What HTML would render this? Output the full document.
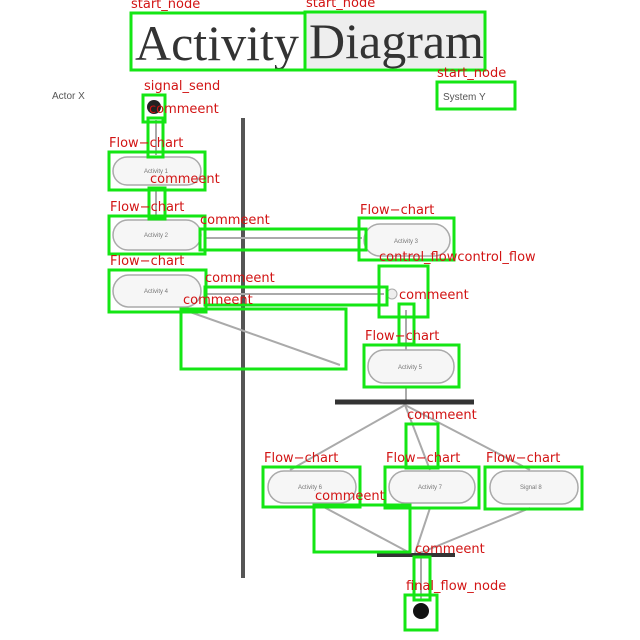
<!DOCTYPE html>
<html><head><meta charset="utf-8"><style>
html,body{margin:0;padding:0;background:#fff;}
svg{display:block;}
.g{fill:none;stroke:#14e614;stroke-width:3;}
.l{fill:#d21414;font-family:"DejaVu Sans","Liberation Sans",sans-serif;font-size:13px;}
.p{fill:#f6f6f6;stroke:#aaa;stroke-width:1.5;}
.t{fill:#777;font-family:"Liberation Sans",sans-serif;font-size:6px;}
.ln{stroke:#aaa;stroke-width:2;fill:none;}
</style></head><body>
<svg width="640" height="640" xmlns="http://www.w3.org/2000/svg">
<rect width="640" height="640" fill="#fff"/>
<text x="135" y="60" font-family="Liberation Serif,serif" font-size="50" fill="#333">Activity</text>
<rect x="306" y="13" width="178" height="55" fill="#eee"/>
<text x="309" y="58" font-family="Liberation Serif,serif" font-size="50" fill="#333">Diagram</text>
<text x="52" y="99" font-family="Liberation Sans,sans-serif" font-size="10" fill="#555">Actor X</text>
<text x="443" y="100" font-family="Liberation Sans,sans-serif" font-size="10" fill="#555">System Y</text>
<line x1="243" y1="118" x2="243" y2="578" stroke="#555" stroke-width="4"/>
<circle cx="154" cy="107" r="7" fill="#222"/>
<!-- connectors -->
<path class="ln" d="M156 120 V155 M156 190 V218 M205 238 H362 M205 294 H384 M406 310 V350 M190 312 L340 365 M406 387 V400 M405 405 L290 470 M405 405 L430 470 M405 405 L530 470 M320 505 L410 553 M430 508 L415 553 M530 508 L420 553 M421 557 V600"/>
<!-- pills -->
<rect class="p" x="113" y="157" width="88" height="28" rx="14"/>
<rect class="p" x="113" y="220" width="88" height="30" rx="15"/>
<rect class="p" x="364" y="224" width="86" height="32" rx="16"/>
<rect class="p" x="113" y="275" width="88" height="32" rx="16"/>
<rect class="p" x="368" y="350" width="86" height="33" rx="16"/>
<rect class="p" x="268" y="471" width="88" height="32" rx="16"/>
<rect class="p" x="389" y="471" width="86" height="32" rx="16"/>
<rect class="p" x="490" y="471" width="88" height="33" rx="16"/>
<text class="t" x="144" y="173">Activity 1</text>
<text class="t" x="144" y="237">Activity 2</text>
<text class="t" x="394" y="243">Activity 3</text>
<text class="t" x="144" y="293">Activity 4</text>
<text class="t" x="398" y="369">Activity 5</text>
<text class="t" x="298" y="489">Activity 6</text>
<text class="t" x="418" y="489">Activity 7</text>
<text class="t" x="520" y="489">Signal 8</text>
<circle cx="392" cy="294" r="5" fill="#eee" stroke="#aaa"/>
<line x1="335" y1="402" x2="474" y2="402" stroke="#333" stroke-width="5"/>
<line x1="377" y1="555" x2="455" y2="555" stroke="#333" stroke-width="4"/>
<circle cx="421" cy="611" r="8" fill="#111"/>
<!-- green boxes -->
<rect class="g" x="131" y="13" width="174" height="57"/>
<rect class="g" x="305" y="12" width="180" height="58"/>
<rect class="g" x="437" y="82" width="78" height="27"/>
<rect class="g" x="143" y="95" width="22" height="27"/>
<rect class="g" x="148" y="118" width="15" height="39"/>
<rect class="g" x="109" y="152" width="96" height="38"/>
<rect class="g" x="149" y="188" width="16" height="31"/>
<rect class="g" x="109" y="216" width="96" height="38"/>
<rect class="g" x="200" y="229" width="166" height="21"/>
<rect class="g" x="359" y="218" width="95" height="42"/>
<rect class="g" x="109" y="270" width="97" height="42"/>
<rect class="g" x="205" y="287" width="182" height="18"/>
<rect class="g" x="379" y="266" width="49" height="51"/>
<rect class="g" x="399" y="304" width="15" height="40"/>
<rect class="g" x="181" y="309" width="165" height="60"/>
<rect class="g" x="364" y="345" width="95" height="42"/>
<rect class="g" x="406" y="424" width="32" height="44"/>
<rect class="g" x="263" y="467" width="97" height="40"/>
<rect class="g" x="385" y="467" width="94" height="41"/>
<rect class="g" x="485" y="467" width="97" height="42"/>
<rect class="g" x="314" y="505" width="96" height="47"/>
<rect class="g" x="414" y="557" width="16" height="43"/>
<rect class="g" x="405" y="595" width="32" height="35"/>
<!-- labels -->
<text class="l" x="131" y="8">start_node</text>
<text class="l" x="306" y="7">start_node</text>
<text class="l" x="437" y="77">start_node</text>
<text class="l" x="144" y="90">signal_send</text>
<text class="l" x="149" y="113">commeent</text>
<text class="l" x="109" y="147">Flow−chart</text>
<text class="l" x="150" y="183">commeent</text>
<text class="l" x="110" y="211">Flow−chart</text>
<text class="l" x="200" y="224">commeent</text>
<text class="l" x="360" y="214">Flow−chart</text>
<text class="l" x="110" y="265">Flow−chart</text>
<text class="l" x="205" y="282">commeent</text>
<text class="l" x="379" y="261">control_flowcontrol_flow</text>
<text class="l" x="183" y="304">commeent</text>
<text class="l" x="399" y="299">commeent</text>
<text class="l" x="365" y="340">Flow−chart</text>
<text class="l" x="407" y="419">commeent</text>
<text class="l" x="264" y="462">Flow−chart</text>
<text class="l" x="386" y="462">Flow−chart</text>
<text class="l" x="486" y="462">Flow−chart</text>
<text class="l" x="315" y="500">commeent</text>
<text class="l" x="415" y="553">commeent</text>
<text class="l" x="406" y="590">final_flow_node</text>
</svg>
</body></html>
